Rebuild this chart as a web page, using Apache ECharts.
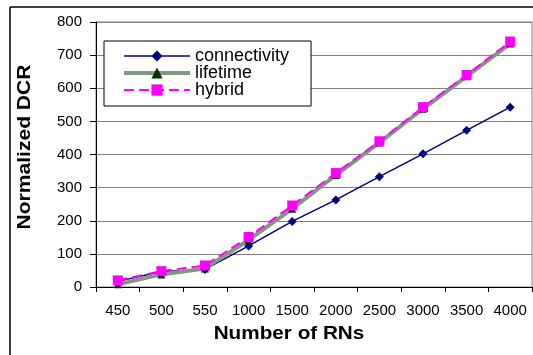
<!DOCTYPE html>
<html>
<head>
<meta charset="utf-8">
<script src="https://cdn.jsdelivr.net/npm/echarts@6/dist/echarts.min.js"></script>
<style>html,body{margin:0;padding:0;background:#fff}#c{width:533px;height:355px}</style>
</head>
<body>
<div id="c"></div>
<script>
var categories = ['450','500','550','1000','1500','2000','2500','3000','3500','4000'];
var connectivity = [17, 47, 53, 124, 198, 263, 333, 402, 473, 543];
var lifetime = [8, 38, 56, 142, 236, 338, 436, 538, 636, 735];
var hybrid = [20, 48, 65, 151, 246, 344, 440, 543, 640, 741];
var yTicks = [0, 100, 200, 300, 400, 500, 600, 700, 800];

var FONT = '"Liberation Sans", Arial, sans-serif';
var chart = echarts.init(document.getElementById('c'), null, {renderer: 'canvas'});
chart.setOption({
  animation: false,
  backgroundColor: '#ffffff',
  grid: {left: 96, right: 1, top: 22, bottom: 68, show: true, borderColor: '#808080', borderWidth: 1},
  legend: {
    orient: 'vertical', left: 104, top: 41,
    backgroundColor: '#ffffff', borderColor: '#000000', borderWidth: 1,
    padding: [6, 22, 7, 18],
    itemWidth: 66, itemHeight: 14, itemGap: -1,
    textStyle: {fontFamily: FONT, fontSize: 18, color: '#000'},
    data: [
      {name: 'connectivity', lineStyle: {width: 1.5, color: '#000080'}},
      {name: 'lifetime', lineStyle: {width: 4, color: '#809a80'}},
      {name: 'hybrid', lineStyle: {width: 2, color: '#ff00ff', type: [10, 5]}}
    ]
  },
  xAxis: {
    type: 'category', data: categories, boundaryGap: true,
    axisLine: {lineStyle: {color: '#000', width: 1}},
    axisTick: {show: true, length: 5, lineStyle: {color: '#000'}},
    axisLabel: {fontFamily: FONT, fontSize: 15, color: '#000', margin: 16, interval: 0}
  },
  yAxis: {
    type: 'value', min: yTicks[0], max: yTicks[yTicks.length - 1], interval: 100,
    axisLine: {show: true, lineStyle: {color: '#000', width: 1}},
    axisTick: {show: true, length: 6, lineStyle: {color: '#000'}},
    axisLabel: {fontFamily: FONT, fontSize: 15, color: '#000', margin: 14},
    splitLine: {show: true, lineStyle: {color: '#808080', width: 1}}
  },
  series: [
    {name: 'connectivity', type: 'line', data: connectivity,
     symbol: 'diamond', symbolSize: 9,
     itemStyle: {color: '#000080'}, lineStyle: {color: '#000080', width: 1.5}},
    {name: 'lifetime', type: 'line', data: lifetime,
     symbol: 'triangle', symbolSize: 8,
     itemStyle: {color: '#003300'}, lineStyle: {color: '#809a80', width: 4}},
    {name: 'hybrid', type: 'line', data: hybrid,
     symbol: 'rect', symbolSize: 10,
     itemStyle: {color: '#ff00ff'}, lineStyle: {color: '#ff00ff', width: 2, type: [10, 5]}}
  ],
  graphic: [
    {type: 'line', shape: {x1: 10, y1: 7, x2: 533, y2: 7}, style: {stroke: '#000', lineWidth: 1.5}, silent: true},
    {type: 'line', shape: {x1: 10, y1: 7, x2: 10, y2: 355}, style: {stroke: '#000', lineWidth: 1.5}, silent: true},
    {type: 'text', x: 25, y: 147, rotation: Math.PI / 2, scaleX: 1.17,
     style: {text: 'Normalized DCR', font: 'bold 18px ' + FONT, fill: '#000', textAlign: 'center', textVerticalAlign: 'middle'}},
    {type: 'text', x: 289, y: 334, scaleX: 1.15,
     style: {text: 'Number of RNs', font: 'bold 18px ' + FONT, fill: '#000', textAlign: 'center', textVerticalAlign: 'middle'}}
  ]
});
</script>
</body>
</html>
